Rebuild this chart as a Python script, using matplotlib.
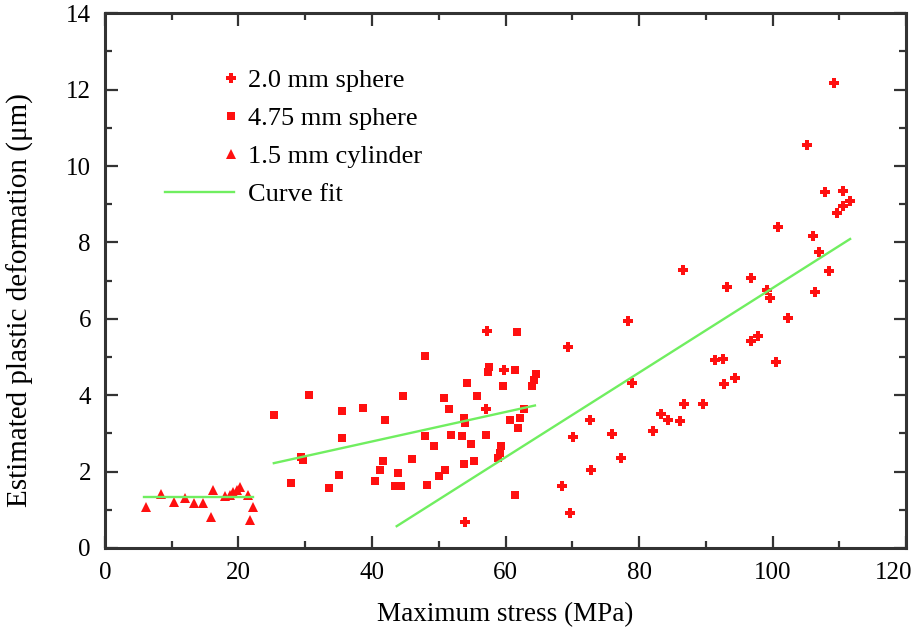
import matplotlib.pyplot as plt
from matplotlib.legend_handler import HandlerLine2D
from matplotlib.ticker import MultipleLocator
from matplotlib.transforms import ScaledTranslation

# 1.5 mm cylinder (triangles)
cyl_x = [6.1, 8.35, 10.34, 11.99, 13.38, 14.64, 15.88, 16.22, 17.98, 18.73,
         19.22, 19.73, 20.22, 21.38, 22.13, 21.72]
cyl_y = [1.08, 1.41, 1.21, 1.30, 1.17, 1.18, 0.82, 1.51, 1.36, 1.38,
         1.47, 1.51, 1.60, 1.38, 1.08, 0.73]

# 4.75 mm sphere (squares)
big_x = [25.3, 30.6, 35.5, 38.7, 41.9, 44.7, 35.5, 29.3, 29.6, 27.8,
         33.6, 35.1, 41.7, 41.2, 40.4, 43.9, 43.4, 44.4, 46.0, 61.7,
         48.0, 57.5, 57.3, 61.4, 64.5, 64.2, 64.0, 54.3, 59.6, 50.8,
         55.8, 51.6, 53.8, 53.9, 62.7, 60.6, 62.2, 61.8, 47.9, 51.8,
         53.5, 57.1, 49.3, 54.8, 59.3, 59.1, 58.8, 53.8, 55.3, 51.0,
         50.1, 48.2, 61.4]
big_y = [3.49, 4.01, 3.58, 3.66, 3.36, 3.97, 2.88, 2.38, 2.30, 1.69,
         1.58, 1.92, 2.27, 2.05, 1.75, 1.97, 1.62, 1.62, 2.32, 5.65,
         5.02, 4.75, 4.60, 4.67, 4.55, 4.40, 4.25, 4.33, 4.23, 3.93,
         3.97, 3.63, 3.41, 3.26, 3.63, 3.36, 3.40, 3.14, 2.92, 2.97,
         2.92, 2.97, 2.66, 2.71, 2.66, 2.49, 2.36, 2.19, 2.27, 2.05,
         1.88, 1.66, 1.38]

# 2.0 mm sphere (plus)
small_x = [57.2, 59.7, 57.1, 53.9, 86.6, 78.3, 69.3, 91.4, 92.6, 79.0,
           86.7, 89.6, 83.3, 84.3, 86.2, 82.1, 72.7, 70.1, 75.9, 77.3,
           72.8, 68.5, 69.7, 92.7, 94.4, 109.2, 105.2, 107.9, 110.6, 111.6,
           110.6, 109.6, 100.8, 106.0, 107.0, 108.4, 96.7, 93.1, 99.2, 99.6,
           106.3, 102.3, 96.8, 97.8, 100.5]
small_y = [5.69, 4.67, 3.63, 0.67, 7.28, 5.93, 5.27, 4.91, 4.94, 4.32,
           3.77, 3.77, 3.50, 3.36, 3.33, 3.07, 3.36, 2.90, 2.99, 2.36,
           2.04, 1.63, 0.91, 4.30, 4.45, 12.18, 10.54, 9.32, 9.35, 9.08,
           8.95, 8.78, 8.41, 8.17, 7.76, 7.25, 7.06, 6.82, 6.76, 6.55,
           6.71, 6.01, 5.43, 5.55, 4.88]

# curve fits (straight segments)
fit1_x = [5.9, 22.2]
fit1_y = [1.33, 1.33]
fit2_x = [25.3, 64.4]
fit2_y = [2.22, 3.73]
fit3_x = [43.7, 111.6]
fit3_y = [0.57, 8.09]

plt.rcParams['font.family'] = ['Liberation Serif', 'DejaVu Serif']

red = '#ff1010'
green = '#70ee60'

fig = plt.figure(figsize=(9.2, 6.32), dpi=100)
ax = fig.add_axes([0.114, 0.133, 0.871, 0.846])

ax.plot(fit1_x, fit1_y, color=green, lw=1.7, zorder=3)
ax.plot(fit2_x, fit2_y, color=green, lw=1.7, zorder=3)
l_fit, = ax.plot(fit3_x, fit3_y, color=green, lw=1.7, zorder=3)

l_small, = ax.plot(small_x, small_y, 'P', color=red, ms=7, mew=0, ls='none', zorder=2)
l_big, = ax.plot(big_x, big_y, 's', color=red, ms=6, mew=0, ls='none', zorder=2)
l_cyl, = ax.plot(cyl_x, cyl_y, '^', color=red, ms=7.5, mew=0, ls='none', zorder=2)

ax.set_xlim(0, 120)
ax.set_ylim(0, 14)
ax.xaxis.set_major_locator(MultipleLocator(20))
ax.xaxis.set_minor_locator(MultipleLocator(10))
ax.yaxis.set_major_locator(MultipleLocator(2))
ax.yaxis.set_minor_locator(MultipleLocator(1))

ax.tick_params(which='both', direction='in', top=True, right=True,
               color='#333333', labelsize=18, pad=10)
ax.tick_params(which='major', length=9, width=1.6)
ax.tick_params(which='minor', length=5, width=1.6)
for s in ax.spines.values():
    s.set_linewidth(2.2)
    s.set_color('#333333')

ax.set_xlabel('Maximum stress (MPa)', fontsize=19.5, labelpad=13)
ax.set_ylabel('Estimated plastic deformation (\u03bcm)', fontsize=21)
ax.yaxis.set_label_coords(-0.089, 0.464)


class RightMarker(HandlerLine2D):
    # put the marker at the right end of the handle
    def get_xdata(self, legend, xdescent, ydescent, width, height, fontsize):
        x = -xdescent + width
        return [x - 4, x], [x - 2]


h = RightMarker(numpoints=1)
ax.legend([l_small, l_big, l_cyl, l_fit],
          ['2.0 mm sphere', '4.75 mm sphere', '1.5 mm cylinder', 'Curve fit'],
          handler_map={l_small: h, l_big: h, l_cyl: h},
          loc='upper left', bbox_to_anchor=(0.075, 0.897), frameon=False,
          fontsize=19, handlelength=2.6, handletextpad=0.55, labelspacing=0.55,
          borderpad=0, borderaxespad=0)

# squeeze the 120 label inside the figure
fig.canvas.draw()
for t in ax.xaxis.get_major_ticks():
    if abs(t.get_loc() - 120) < 1e-6:
        t.label1.set_transform(t.label1.get_transform()
                               + ScaledTranslation(-0.13, 0, fig.dpi_scale_trans))

fig.savefig('out.png', dpi=100)
